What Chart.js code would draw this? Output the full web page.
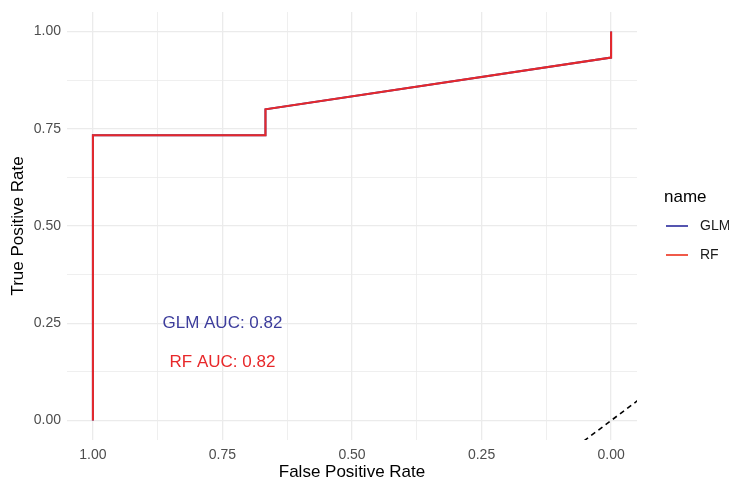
<!DOCTYPE html>
<html>
<head>
<meta charset="utf-8">
<script src="https://cdn.jsdelivr.net/npm/chart.js@4"></script>
<style>
  html, body { margin: 0; padding: 0; background: #fff; }
  #wrap { width: 729px; height: 481px; }
</style>
</head>
<body>
<div id="wrap"><canvas id="roc"></canvas></div>
<script>
// ROC curves (x = false positive rate on a reversed axis)
const glmFpr = [1, 1, 0.667, 0.667, 0, 0];
const glmTpr = [0, 0.733, 0.733, 0.8, 0.933, 1];
const rfFpr = [1, 1, 0.667, 0.667, 0, 0];
const rfTpr = [0, 0.733, 0.733, 0.8, 0.933, 1];

// reference line (abline on the reversed scale)
const refX = [0.08, -0.08];
const refY = [-0.08, 0.08];

const seriesNames = ["GLM", "RF"];
const aucLabels = ["GLM AUC: 0.82", "RF AUC: 0.82"];
const aucX = [0.75, 0.75];
const aucY = [0.25, 0.15];

const majorTicks = [0, 0.25, 0.5, 0.75, 1];
const minorTicks = [0.125, 0.375, 0.625, 0.875];
const tickLabels = ["0.00", "0.25", "0.50", "0.75", "1.00"];

const BLUE = "#3d3d9c";
const RED = "#e8282a";
const FONT = "'Liberation Sans', Arial, sans-serif";

function toPoints(xs, ys) {
  return xs.map((x, i) => ({ x: x, y: ys[i] }));
}

const allTicks = majorTicks.concat(minorTicks).sort((a, b) => a - b);

function isMajor(v) {
  return majorTicks.some(m => Math.abs(m - v) < 1e-6);
}

function tickLabel(v) {
  const i = majorTicks.findIndex(m => Math.abs(m - v) < 1e-6);
  return i >= 0 ? tickLabels[i] : "";
}

const gridOpts = {
  color: "#ebebeb",
  lineWidth: ctx => (ctx.tick && isMajor(ctx.tick.value) ? 1.3 : 0.8),
  drawTicks: false
};

// text labels + legend drawn on top
const extrasPlugin = {
  id: "extras",
  afterDatasetsDraw(chart) {
    const c = chart.ctx;
    const xs = chart.scales.x;
    const ys = chart.scales.y;
    c.save();
    c.font = "17px " + FONT;
    c.textAlign = "center";
    c.textBaseline = "middle";
    aucLabels.forEach((t, i) => {
      c.fillStyle = i === 0 ? BLUE : RED;
      c.fillText(t, xs.getPixelForValue(aucX[i]), ys.getPixelForValue(aucY[i]));
    });

    // legend
    c.textAlign = "left";
    c.fillStyle = "#000";
    c.font = "17px " + FONT;
    c.fillText("name", 664, 197);
    c.font = "14px " + FONT;
    seriesNames.forEach((n, i) => {
      const y = 226 + i * 29;
      c.strokeStyle = i === 0 ? "#5555b0" : "#f05a4a";
      c.lineWidth = 2;
      c.beginPath();
      c.moveTo(666, y);
      c.lineTo(688, y);
      c.stroke();
      c.fillStyle = "#1a1a1a";
      c.fillText(n, 700, y);
    });
    c.restore();
  }
};

new Chart(document.getElementById("roc"), {
  type: "scatter",
  data: {
    datasets: [
      {
        label: seriesNames[0],
        data: toPoints(glmFpr, glmTpr),
        showLine: true,
        borderColor: BLUE,
        borderWidth: 2,
        pointRadius: 0,
        order: 2
      },
      {
        label: seriesNames[1],
        data: toPoints(rfFpr, rfTpr),
        showLine: true,
        borderColor: RED,
        borderWidth: 2,
        pointRadius: 0,
        order: 1
      },
      {
        label: "ref",
        data: toPoints(refX, refY),
        showLine: true,
        borderColor: "#000",
        borderWidth: 1.6,
        borderDash: [5, 4],
        pointRadius: 0,
        order: 0
      }
    ]
  },
  options: {
    responsive: true,
    maintainAspectRatio: false,
    animation: false,
    layout: { padding: { top: 12, right: 92, left: 0, bottom: 0 } },
    plugins: {
      legend: { display: false },
      tooltip: { enabled: false }
    },
    scales: {
      x: {
        type: "linear",
        reverse: true,
        min: -0.05,
        max: 1.05,
        afterBuildTicks: s => { s.ticks = allTicks.map(v => ({ value: v })); },
        afterFit: s => {
          s.height = 41;
          s.paddingLeft = 0;
          s.paddingRight = 0;
        },
        grid: gridOpts,
        border: { display: false },
        ticks: {
          callback: v => tickLabel(v),
          autoSkip: false,
          maxRotation: 0,
          padding: 7,
          color: "#4d4d4d",
          font: { family: FONT, size: 14 }
        },
        title: {
          display: true,
          text: "False Positive Rate",
          color: "#000",
          padding: 0,
          font: { family: FONT, size: 17, lineHeight: 1 }
        }
      },
      y: {
        type: "linear",
        min: -0.05,
        max: 1.05,
        afterBuildTicks: s => { s.ticks = allTicks.map(v => ({ value: v })); },
        afterFit: s => {
          s.width = 67;
          s.paddingTop = 0;
          s.paddingBottom = 0;
        },
        grid: gridOpts,
        border: { display: false },
        ticks: {
          callback: v => tickLabel(v),
          autoSkip: false,
          padding: 6,
          color: "#4d4d4d",
          font: { family: FONT, size: 14 }
        },
        title: {
          display: true,
          text: "True Positive Rate",
          color: "#000",
          padding: { top: 10, bottom: 0 },
          font: { family: FONT, size: 17, lineHeight: 1 }
        }
      }
    }
  },
  plugins: [extrasPlugin]
});
</script>
</body>
</html>
